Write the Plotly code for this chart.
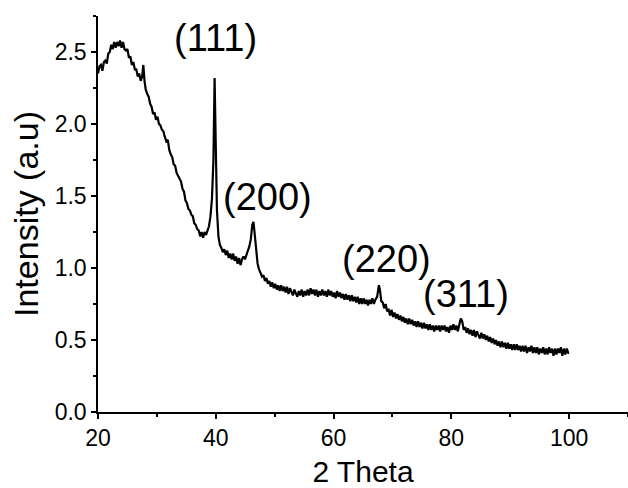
import plotly.graph_objects as go

# 2-theta values (degrees) and intensity (a.u.)
two_theta = [
    20.0, 20.25, 20.5, 20.75, 21.0, 21.25, 21.5, 21.75, 22.0, 22.25, 22.5, 22.75, 23.0, 23.25, 23.5,
    23.75, 24.0, 24.25, 24.5, 24.75, 25.0, 25.25, 25.5, 25.75, 26.0, 26.25, 26.5, 26.75, 27.0, 27.25,
    27.5, 27.7, 27.9, 28.1, 28.35, 28.6, 28.85, 29.1, 29.35, 29.6, 29.85, 30.1, 30.35, 30.6, 30.85,
    31.1, 31.35, 31.6, 31.85, 32.1, 32.35, 32.6, 32.85, 33.1, 33.35, 33.6, 33.85, 34.1, 34.35, 34.6,
    34.85, 35.1, 35.35, 35.6, 35.85, 36.1, 36.35, 36.6, 36.85, 37.1, 37.35, 37.6, 37.85, 38.1, 38.35,
    38.6, 38.85, 39.1, 39.35, 39.6, 39.8, 40.0, 40.2, 40.45, 40.7, 40.95, 41.2, 41.45, 41.7, 41.95,
    42.2, 42.45, 42.7, 42.95, 43.2, 43.45, 43.7, 43.95, 44.2, 44.45, 44.7, 44.95, 45.2, 45.45, 45.7,
    45.95, 46.2, 46.4, 46.6, 46.85, 47.1, 47.35, 47.6, 47.85, 48.1, 48.35, 48.6, 48.85, 49.1, 49.35,
    49.6, 49.85, 50.1, 50.35, 50.6, 50.85, 51.1, 51.35, 51.6, 51.85, 52.1, 52.35, 52.6, 52.85, 53.1,
    53.35, 53.6, 53.85, 54.1, 54.35, 54.6, 54.85, 55.1, 55.35, 55.6, 55.85, 56.1, 56.35, 56.6, 56.85,
    57.1, 57.35, 57.6, 57.85, 58.1, 58.35, 58.6, 58.85, 59.1, 59.35, 59.6, 59.85, 60.1, 60.35, 60.6,
    60.85, 61.1, 61.35, 61.6, 61.85, 62.1, 62.35, 62.6, 62.85, 63.1, 63.35, 63.6, 63.85, 64.1, 64.35,
    64.6, 64.85, 65.1, 65.35, 65.6, 65.85, 66.1, 66.35, 66.6, 66.85, 67.1, 67.4, 67.7, 67.9, 68.1,
    68.35, 68.6, 68.85, 69.1, 69.35, 69.6, 69.85, 70.1, 70.35, 70.6, 70.85, 71.1, 71.35, 71.6, 71.85,
    72.1, 72.35, 72.6, 72.85, 73.1, 73.35, 73.6, 73.85, 74.1, 74.35, 74.6, 74.85, 75.1, 75.35, 75.6,
    75.85, 76.1, 76.35, 76.6, 76.85, 77.1, 77.35, 77.6, 77.85, 78.1, 78.35, 78.6, 78.85, 79.1, 79.35,
    79.6, 79.85, 80.1, 80.35, 80.6, 80.85, 81.1, 81.35, 81.6, 81.85, 82.1, 82.35, 82.6, 82.85, 83.1,
    83.35, 83.6, 83.85, 84.1, 84.35, 84.6, 84.85, 85.1, 85.35, 85.6, 85.85, 86.1, 86.35, 86.6, 86.85,
    87.1, 87.35, 87.6, 87.85, 88.1, 88.35, 88.6, 88.85, 89.1, 89.35, 89.6, 89.85, 90.1, 90.35, 90.6,
    90.85, 91.1, 91.35, 91.6, 91.85, 92.1, 92.35, 92.6, 92.85, 93.1, 93.35, 93.6, 93.85, 94.1, 94.35,
    94.6, 94.85, 95.1, 95.35, 95.6, 95.85, 96.1, 96.35, 96.6, 96.85, 97.1, 97.35, 97.6, 97.85, 98.1,
    98.35, 98.6, 98.85, 99.1, 99.35, 99.6, 99.85, 100.0,
]
intensity = [
    2.35, 2.40, 2.41, 2.37, 2.43, 2.44, 2.42, 2.49, 2.50, 2.55, 2.52, 2.57, 2.53, 2.57, 2.54,
    2.58, 2.53, 2.57, 2.52, 2.51, 2.52, 2.46, 2.47, 2.41, 2.43, 2.38, 2.38, 2.33, 2.35, 2.30,
    2.33, 2.41, 2.30, 2.24, 2.21, 2.19, 2.14, 2.12, 2.07, 2.08, 2.03, 2.05, 2.00, 1.99, 1.96,
    1.95, 1.91, 1.88, 1.89, 1.82, 1.79, 1.77, 1.72, 1.71, 1.66, 1.64, 1.61, 1.60, 1.55, 1.53,
    1.47, 1.45, 1.41, 1.40, 1.37, 1.36, 1.31, 1.30, 1.27, 1.26, 1.22, 1.25, 1.21, 1.25, 1.23,
    1.26, 1.29, 1.36, 1.48, 1.75, 2.32, 1.85, 1.40, 1.22, 1.16, 1.14, 1.11, 1.13, 1.09, 1.12,
    1.07, 1.10, 1.06, 1.10, 1.05, 1.08, 1.03, 1.07, 1.02, 1.06, 1.08, 1.06, 1.10, 1.12, 1.15,
    1.20, 1.30, 1.32, 1.24, 1.12, 1.03, 0.99, 0.97, 0.94, 0.95, 0.91, 0.93, 0.89, 0.91, 0.87,
    0.90, 0.86, 0.89, 0.85, 0.88, 0.84, 0.88, 0.84, 0.87, 0.83, 0.87, 0.82, 0.86, 0.84, 0.81,
    0.85, 0.82, 0.80, 0.84, 0.81, 0.85, 0.80, 0.84, 0.81, 0.85, 0.81, 0.86, 0.82, 0.85, 0.81,
    0.85, 0.80, 0.84, 0.81, 0.85, 0.81, 0.84, 0.80, 0.85, 0.81, 0.84, 0.80, 0.83, 0.79, 0.84,
    0.80, 0.83, 0.79, 0.82, 0.78, 0.82, 0.78, 0.81, 0.77, 0.81, 0.77, 0.80, 0.76, 0.80, 0.75,
    0.79, 0.75, 0.79, 0.75, 0.78, 0.74, 0.78, 0.75, 0.79, 0.75, 0.78, 0.80, 0.88, 0.84, 0.77,
    0.76, 0.72, 0.75, 0.70, 0.71, 0.67, 0.71, 0.66, 0.69, 0.65, 0.68, 0.64, 0.67, 0.63, 0.66,
    0.62, 0.65, 0.61, 0.65, 0.61, 0.64, 0.60, 0.63, 0.59, 0.63, 0.59, 0.62, 0.58, 0.62, 0.58,
    0.61, 0.57, 0.61, 0.57, 0.60, 0.56, 0.60, 0.57, 0.60, 0.56, 0.60, 0.57, 0.60, 0.56, 0.59,
    0.55, 0.60, 0.57, 0.61, 0.57, 0.60, 0.56, 0.61, 0.65, 0.63, 0.57, 0.59, 0.55, 0.58, 0.54,
    0.57, 0.53, 0.57, 0.52, 0.56, 0.54, 0.51, 0.55, 0.51, 0.54, 0.50, 0.53, 0.49, 0.52, 0.48,
    0.51, 0.47, 0.50, 0.46, 0.49, 0.45, 0.49, 0.45, 0.48, 0.44, 0.48, 0.44, 0.47, 0.43, 0.47,
    0.43, 0.47, 0.43, 0.46, 0.42, 0.46, 0.42, 0.46, 0.41, 0.45, 0.42, 0.46, 0.41, 0.45, 0.41,
    0.45, 0.40, 0.44, 0.41, 0.45, 0.40, 0.44, 0.40, 0.45, 0.41, 0.44, 0.39, 0.44, 0.40, 0.44,
    0.41, 0.45, 0.39, 0.44, 0.40, 0.44, 0.41, 0.41,
]
assert len(two_theta) == len(intensity)

peak_labels = ["(111)", "(200)", "(220)", "(311)"]
peak_label_x = [40.0, 48.8, 69.0, 82.5]
peak_label_y = [2.60, 1.49, 1.06, 0.82]

x_ticks = [20, 40, 60, 80, 100]
y_ticks = [0.0, 0.5, 1.0, 1.5, 2.0, 2.5]

FONT = "Liberation Sans, Arial, sans-serif"

fig = go.Figure()
fig.add_trace(go.Scatter(
    x=two_theta, y=intensity, mode="lines",
    line=dict(color="black", width=2.2),
    showlegend=False,
))

for t, xv, yv in zip(peak_labels, peak_label_x, peak_label_y):
    fig.add_annotation(x=xv, y=yv, text=t, showarrow=False,
                       xanchor="center", yanchor="middle",
                       font=dict(family=FONT, size=38, color="black"))

axis_common = dict(
    showline=True, linecolor="black", linewidth=1.5,
    showgrid=False, zeroline=False, mirror=False,
    ticks="outside", ticklen=5, tickwidth=1.5, tickcolor="black",
    tickfont=dict(family=FONT, size=23, color="black"),
)

fig.update_xaxes(
    range=[20, 110], tickvals=x_ticks, ticktext=[str(v) for v in x_ticks],
    minor=dict(ticks="outside", ticklen=3, tickwidth=1.5, tickcolor="black", dtick=10, tick0=20),
    title=dict(text="2 Theta", font=dict(family=FONT, size=30, color="black"), standoff=12),
    **axis_common,
)
fig.update_yaxes(
    range=[0, 2.75], tickvals=y_ticks, ticktext=[f"{v:.1f}" for v in y_ticks],
    minor=dict(ticks="outside", ticklen=3, tickwidth=1.5, tickcolor="black", dtick=0.25, tick0=0),
    title=dict(text="Intensity (a.u)", font=dict(family=FONT, size=34, color="black"), standoff=6),
    **axis_common,
)

fig.update_layout(
    width=628, height=488,
    margin=dict(l=98, r=0, t=16, b=76, autoexpand=False),
    plot_bgcolor="white", paper_bgcolor="white",
)

fig.write_html(
    "out.html",
    config={"displayModeBar": False},
    post_script="document.body.style.margin='0px';document.body.style.overflow='hidden';",
)
